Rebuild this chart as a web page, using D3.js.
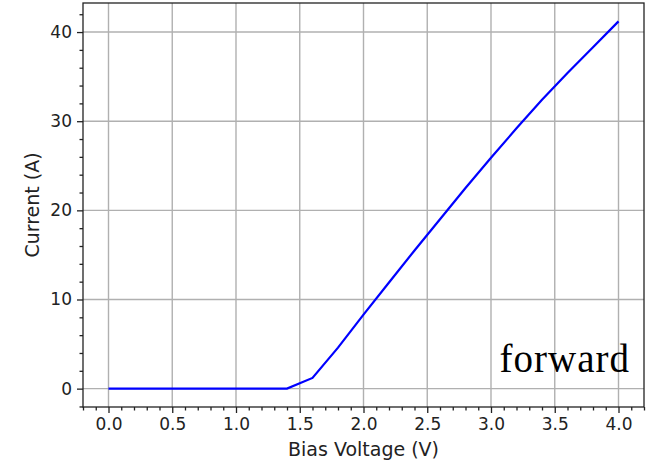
<!DOCTYPE html>
<html lang="en">
<head>
    <meta charset="UTF-8">
    <title>Forward Bias IV Curve</title>
    <script src="https://d3js.org/d3.v7.min.js"></script>
    <style>
        body {
            margin: 0;
            background-color: #ffffff;
        }
        .tick text {
            font-family: 'DejaVu Sans', sans-serif;
            font-size: 17px;
            fill: #222;
        }
        .axis-label {
            font-family: 'DejaVu Sans', sans-serif;
            font-size: 19px;
            fill: #222;
        }
    </style>
</head>
<body>
    <div id="chart"></div>
    <script>
        const svgWidth = 647;
        const svgHeight = 462;
        const margin = { top: 3, right: 3, bottom: 55, left: 83 };

        // bias voltage (V) and current (A)
        const voltage = [0.0, 0.2, 0.4, 0.6, 0.8, 1.0, 1.2, 1.4, 1.6, 1.8, 2.0, 2.2, 2.4, 2.6, 2.8, 3.0, 3.2, 3.4, 3.6, 3.8, 4.0];
        const current = [0, 0, 0, 0, 0, 0, 0, 0, 1.2, 4.6, 8.3, 11.9, 15.5, 19.0, 22.5, 25.9, 29.2, 32.4, 35.4, 38.3, 41.2];

        const xTicks = [0.0, 0.5, 1.0, 1.5, 2.0, 2.5, 3.0, 3.5, 4.0];
        const yTicks = [0, 10, 20, 30, 40];
        const xMinorTicks = d3.range(-2, 43).map(d => d / 10).filter(d => Math.round(d * 10) % 5 !== 0);
        const yMinorTicks = d3.range(-2, 43, 2).filter(d => d % 10 !== 0);

        const xLabel = "Bias Voltage (V)";
        const yLabel = "Current (A)";
        const annotation = "forward";

        const width = svgWidth - margin.left - margin.right;
        const height = svgHeight - margin.top - margin.bottom;

        const svg = d3.select("#chart").append("svg")
            .attr("width", svgWidth)
            .attr("height", svgHeight);

        const g = svg.append("g")
            .attr("transform", `translate(${margin.left},${margin.top})`);

        // matplotlib style 5% margins
        const xPad = (d3.max(voltage) - d3.min(voltage)) * 0.05;
        const yPad = (d3.max(current) - d3.min(current)) * 0.05;
        const xScale = d3.scaleLinear()
            .domain([d3.min(voltage) - xPad, d3.max(voltage) + xPad])
            .range([0, width]);
        const yScale = d3.scaleLinear()
            .domain([d3.min(current) - yPad, d3.max(current) + yPad])
            .range([height, 0]);

        // grid
        g.append("g")
            .selectAll("line")
            .data(xTicks)
            .enter().append("line")
            .attr("x1", d => xScale(d))
            .attr("x2", d => xScale(d))
            .attr("y1", 0)
            .attr("y2", height)
            .attr("stroke", "#b0b0b0")
            .attr("stroke-width", 1.4);

        g.append("g")
            .selectAll("line")
            .data(yTicks)
            .enter().append("line")
            .attr("x1", 0)
            .attr("x2", width)
            .attr("y1", d => yScale(d))
            .attr("y2", d => yScale(d))
            .attr("stroke", "#b0b0b0")
            .attr("stroke-width", 1.4);

        // the curve
        const line = d3.line()
            .x((d, i) => xScale(voltage[i]))
            .y(d => yScale(d));

        g.append("path")
            .datum(current)
            .attr("fill", "none")
            .attr("stroke", "#0000ff")
            .attr("stroke-width", 2.2)
            .attr("d", line);

        // annotation
        g.append("text")
            .attr("x", width - 14)
            .attr("y", height - 35)
            .attr("text-anchor", "end")
            .style("font-family", "'Palatino Linotype', Palatino, 'Liberation Serif', serif")
            .style("font-size", "39px")
            .style("letter-spacing", "1px")
            .style("fill", "#000")
            .text(annotation);

        // minor ticks
        g.append("g")
            .attr("transform", `translate(0,${height})`)
            .call(d3.axisBottom(xScale).tickValues(xMinorTicks).tickSize(3.5).tickFormat(""))
            .call(a => a.select(".domain").remove());
        g.append("g")
            .call(d3.axisLeft(yScale).tickValues(yMinorTicks).tickSize(3.5).tickFormat(""))
            .call(a => a.select(".domain").remove());

        // major ticks
        const xAxis = g.append("g")
            .attr("transform", `translate(0,${height})`)
            .call(d3.axisBottom(xScale).tickValues(xTicks).tickSize(6).tickPadding(5).tickFormat(d3.format(".1f")));
        xAxis.select(".domain").remove();

        const yAxis = g.append("g")
            .call(d3.axisLeft(yScale).tickValues(yTicks).tickSize(6).tickPadding(5).tickFormat(d3.format("d")));
        yAxis.select(".domain").remove();

        g.selectAll(".tick line").attr("stroke", "#222").attr("stroke-width", 1.3);

        // frame
        g.append("rect")
            .attr("width", width)
            .attr("height", height)
            .attr("fill", "none")
            .attr("stroke", "#222")
            .attr("stroke-width", 1.3);

        // axis labels
        g.append("text")
            .attr("class", "axis-label")
            .attr("x", width / 2)
            .attr("y", height + 49)
            .attr("text-anchor", "middle")
            .text(xLabel);

        g.append("text")
            .attr("class", "axis-label")
            .attr("transform", "rotate(-90)")
            .attr("x", -height / 2)
            .attr("y", -margin.left + 39)
            .attr("text-anchor", "middle")
            .text(yLabel);
    </script>
</body>
</html>
